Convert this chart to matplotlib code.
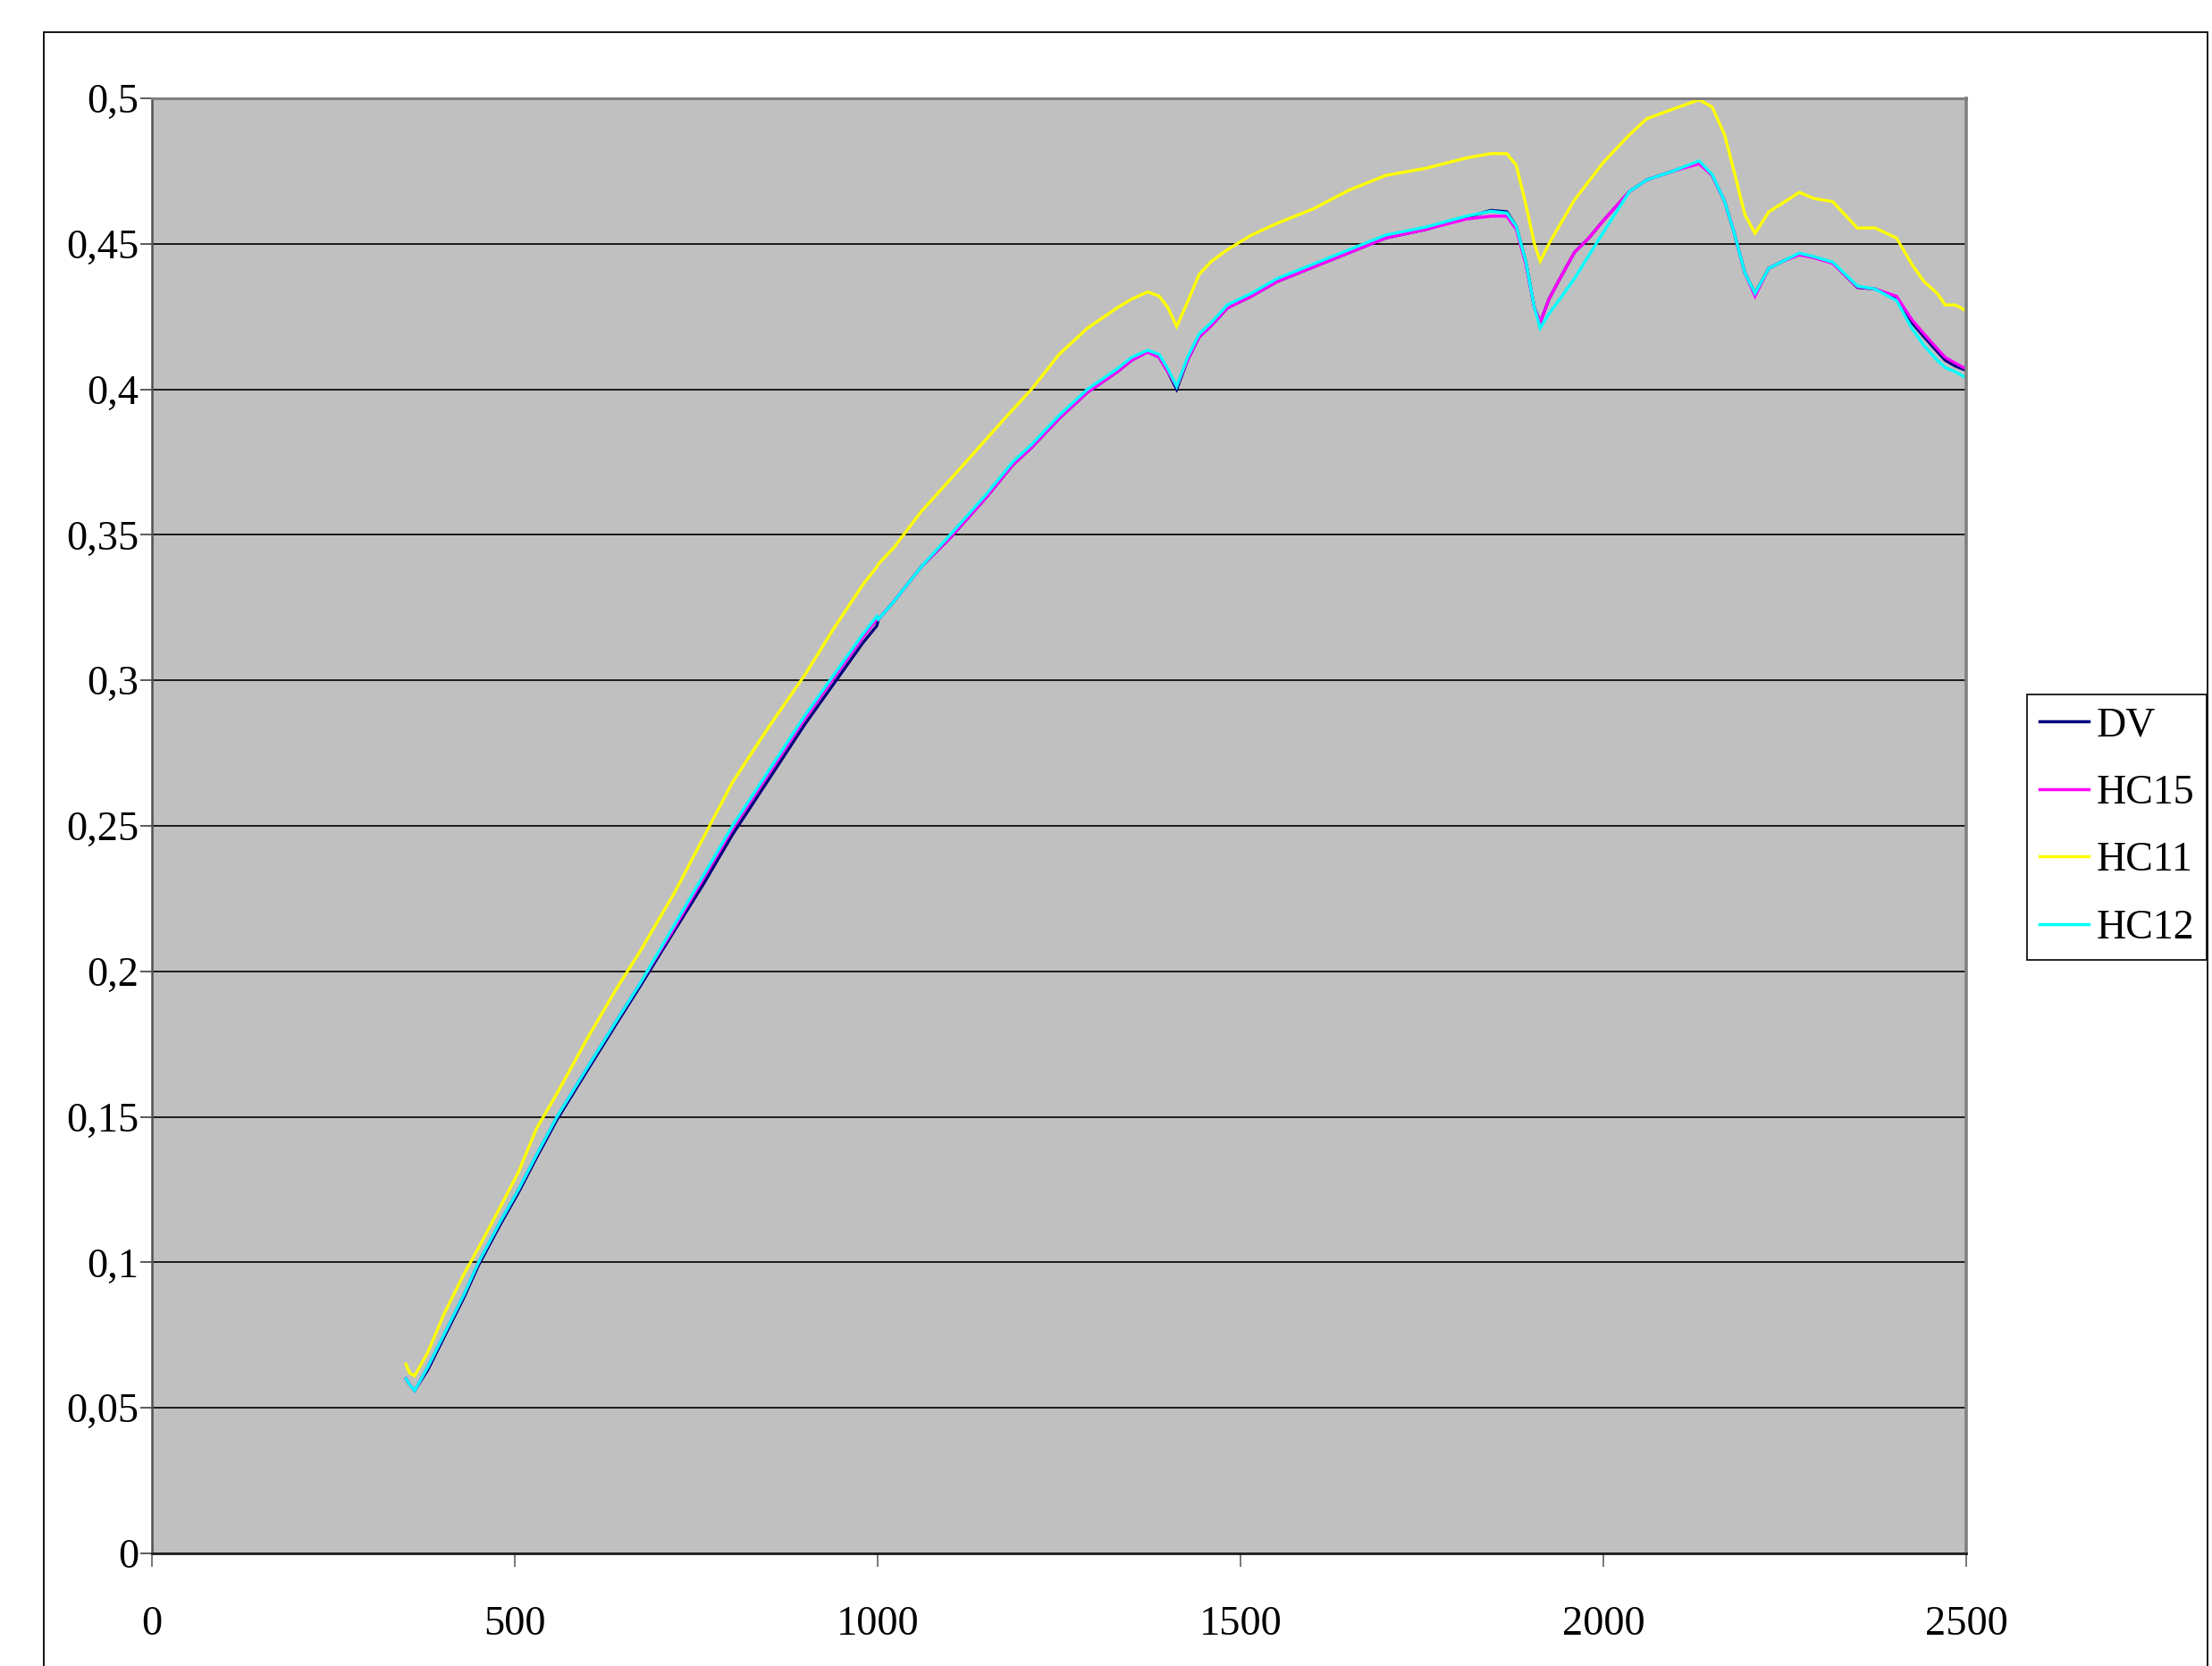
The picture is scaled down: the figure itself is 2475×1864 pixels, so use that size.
import numpy as np
import matplotlib
matplotlib.use('Agg')
import matplotlib.pyplot as plt
from matplotlib.patches import Rectangle
from matplotlib.ticker import FuncFormatter, MultipleLocator

plt.rcParams['font.family'] = ['Liberation Serif', 'DejaVu Serif']

# wavelength (nm) and reflectance values
wl = [350, 355, 362, 380, 402, 430, 450, 480, 505, 530, 558, 600, 640, 673, 720,
      760, 800, 850, 900, 940, 980, 999, 1001, 1022, 1060, 1100, 1150, 1186, 1212,
      1250, 1289, 1330, 1350, 1372, 1388, 1400, 1412, 1427, 1443, 1460, 1482, 1515,
      1550, 1600, 1650, 1700, 1756, 1811, 1845, 1867, 1880, 1893, 1905, 1913, 1925,
      1940, 1960, 1980, 2000, 2036, 2060, 2096, 2132, 2150, 2167, 2180, 2195, 2209,
      2228, 2247, 2270, 2290, 2316, 2350, 2374, 2404, 2425, 2442, 2460, 2471, 2485,
      2500]

hc12 = [0.060, 0.058, 0.056, 0.064, 0.075, 0.089, 0.100, 0.114, 0.125, 0.137, 0.150,
        0.167, 0.183, 0.196, 0.216, 0.233, 0.250, 0.269, 0.288, 0.302, 0.316, 0.322,
        0.321, 0.327, 0.339, 0.350, 0.364, 0.375, 0.381, 0.391, 0.400, 0.407, 0.411,
        0.4134, 0.412, 0.407, 0.401, 0.411, 0.419, 0.423, 0.429, 0.433, 0.438, 0.443,
        0.448, 0.453, 0.4558, 0.4595, 0.4612, 0.4606, 0.456, 0.444, 0.428, 0.421,
        0.426, 0.431, 0.438, 0.446, 0.454, 0.468, 0.472, 0.475, 0.4785, 0.4738,
        0.4646, 0.454, 0.440, 0.433, 0.4416, 0.444, 0.4468, 0.4456, 0.4437, 0.4355,
        0.4345, 0.4305, 0.421, 0.415, 0.410, 0.4075, 0.406, 0.404]

hc15 = [0.060, 0.058, 0.056, 0.064, 0.075, 0.089, 0.100, 0.114, 0.125, 0.137, 0.150,
        0.167, 0.183, 0.196, 0.215, 0.232, 0.249, 0.268, 0.287, 0.301, 0.315, 0.321,
        0.321, 0.327, 0.339, 0.349, 0.363, 0.374, 0.380, 0.390, 0.399, 0.406, 0.410,
        0.4128, 0.411, 0.406, 0.401, 0.410, 0.418, 0.422, 0.428, 0.432, 0.437, 0.442,
        0.447, 0.452, 0.4550, 0.4585, 0.4595, 0.4595, 0.455, 0.443, 0.428, 0.423,
        0.431, 0.438, 0.447, 0.452, 0.458, 0.468, 0.472, 0.475, 0.4775, 0.4735,
        0.4646, 0.454, 0.440, 0.432, 0.4416, 0.444, 0.4462, 0.4452, 0.4433, 0.4352,
        0.4345, 0.4320, 0.424, 0.419, 0.414, 0.411, 0.409, 0.407]

dv = [0.060, 0.058, 0.056, 0.063, 0.074, 0.088, 0.099, 0.113, 0.124, 0.136, 0.149,
      0.166, 0.182, 0.195, 0.214, 0.230, 0.247, 0.266, 0.285, 0.299, 0.313, 0.3188,
      0.321, 0.327, 0.339, 0.349, 0.363, 0.374, 0.380, 0.390, 0.399, 0.406, 0.410,
      0.4130, 0.411, 0.406, 0.400, 0.410, 0.418, 0.422, 0.428, 0.432, 0.437, 0.442,
      0.447, 0.452, 0.4550, 0.4590, 0.4615, 0.4610, 0.456, 0.444, 0.428, 0.423,
      0.431, 0.438, 0.447, 0.452, 0.458, 0.468, 0.472, 0.475, 0.4780, 0.4735,
      0.4646, 0.454, 0.440, 0.433, 0.4416, 0.444, 0.4465, 0.4455, 0.4435, 0.4350,
      0.4345, 0.4315, 0.423, 0.418, 0.413, 0.410, 0.408, 0.4065]

hc11 = [0.065, 0.062, 0.061, 0.069, 0.082, 0.096, 0.105, 0.119, 0.131, 0.146, 0.158,
        0.177, 0.194, 0.207, 0.227, 0.246, 0.265, 0.284, 0.302, 0.318, 0.333, 0.339,
        0.340, 0.3455, 0.358, 0.369, 0.383, 0.393, 0.400, 0.412, 0.421, 0.428, 0.431,
        0.4335, 0.432, 0.428, 0.4216, 0.430, 0.4395, 0.444, 0.448, 0.453, 0.457,
        0.462, 0.4685, 0.4735, 0.476, 0.4795, 0.481, 0.481, 0.477, 0.4637, 0.450,
        0.444, 0.450, 0.4565, 0.465, 0.4715, 0.478, 0.4875, 0.493, 0.4963, 0.4995,
        0.497, 0.4875, 0.475, 0.460, 0.4536, 0.461, 0.464, 0.4677, 0.4656, 0.4645,
        0.4554, 0.4555, 0.452, 0.443, 0.437, 0.433, 0.429, 0.429, 0.427]

labels = ['DV', 'HC15', 'HC11', 'HC12']
colors = ['#000080', '#FF00FF', '#FFFF00', '#00FFFF']

fig = plt.figure(figsize=(24.75, 18.64), dpi=100)
fig.patch.set_facecolor('white')

# chart-area border
fig.patches.append(Rectangle((49 / 2475, -0.02), (2470 - 49) / 2475, 1.02 - 36 / 1864,
                             transform=fig.transFigure, fill=False,
                             edgecolor='#000000', linewidth=1.3))

ax = fig.add_axes([170 / 2475, 1 - 1738 / 1864, 2030 / 2475, 1628 / 1864])
ax.set_facecolor('#C0C0C0')

for lab, vals, col in zip(labels, [dv, hc15, hc11, hc12], colors):
    ax.plot(wl, vals, color=col, lw=2.4, label=lab, solid_joinstyle='miter')

ax.set_xlim(0, 2500)
ax.set_ylim(0, 0.5)
ax.xaxis.set_major_locator(MultipleLocator(500))
ax.yaxis.set_major_locator(MultipleLocator(0.05))
ax.yaxis.set_major_formatter(FuncFormatter(lambda v, _: ('%g' % round(v, 2)).replace('.', ',')))
ax.set_axisbelow(True)
ax.yaxis.grid(True, color='#1a1a1a', lw=1.4)

ax.tick_params(axis='y', direction='out', length=9.5, width=1.2, color='#404040',
               pad=1, labelsize=33.5)
ax.tick_params(axis='x', direction='out', length=11, width=1.2, color='#606060',
               pad=31, labelsize=33.5)

ax.spines['top'].set_color('#808080')
ax.spines['top'].set_linewidth(2.2)
ax.spines['right'].set_color('#808080')
ax.spines['right'].set_linewidth(2.6)
ax.spines['left'].set_color('#505050')
ax.spines['left'].set_linewidth(1.8)
ax.spines['bottom'].set_color('#202020')
ax.spines['bottom'].set_linewidth(2.0)

leg = fig.legend(loc='upper left', bbox_to_anchor=(2268 / 2475, 1 - 777 / 1864),
                 bbox_transform=fig.transFigure, borderaxespad=0, fontsize=33,
                 fancybox=False, framealpha=1, edgecolor='#000000',
                 handlelength=1.2, handletextpad=0.2, borderpad=0.3,
                 labelspacing=0.72)
leg.get_frame().set_linewidth(1.2)
for line in leg.get_lines():
    line.set_linewidth(2.5)

fig.savefig('out.png', dpi=100)
